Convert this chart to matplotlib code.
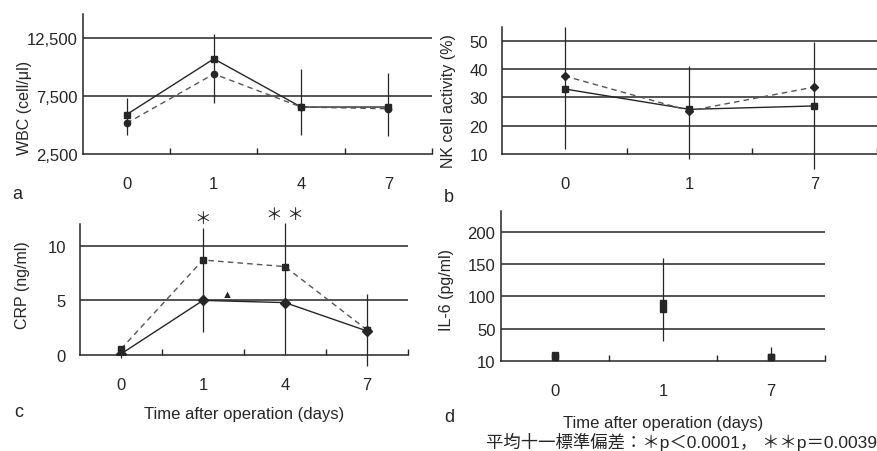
import numpy as np
import matplotlib.pyplot as plt

plt.rcParams['font.family'] = ['Liberation Sans', 'Noto Sans CJK JP', 'DejaVu Sans']

# panel a: WBC
days_a = ["0", "1", "4", "7"]
wbc_solid = [5900, 10700, 6550, 6550]
wbc_dash = [5150, 9400, 6550, 6400]
wbc_err_lo = [4100, 6900, 4150, 4050]
wbc_err_hi = [7300, 12850, 9800, 9500]

# panel b: NK cell activity
days_b = ["0", "1", "7"]
nk_solid = [33, 25.8, 27]
nk_dash = [37.6, 25.3, 33.7]
nk_err_lo = [11.8, 8.2, 4.7]
nk_err_hi = [54.9, 41.2, 49.6]

# panel c: CRP
days_c = ["0", "1", "4", "7"]
crp_solid = [0.1, 5.0, 4.8, 2.2]
crp_dash = [0.55, 8.7, 8.1, 2.3]
crp_err_lo = [-0.3, 2.1, 0.0, -1.0]
crp_err_hi = [0.7, 11.6, 12.1, 5.6]

# panel d: IL-6 (bottom tick labelled 10 sits at the zero line)
days_d = ["0", "1", "7"]
il6_solid = [9, 90, 7]
il6_dash = [6, 81, 6]
il6_err_lo = [0, 31, 0]
il6_err_hi = [13, 160, 22]

ink = "#262626"

fig = plt.figure(figsize=(8.78, 4.52), dpi=100)


def panel(rect, cats, solid, dash, lo, hi, ylim, grid, yticks, yticklabels,
          ylabel, label_xy, lines=True, ms_solid="s", ms_dash="D", ypad=0):
    ax = fig.add_axes(rect)
    x = np.arange(len(cats))
    ax.vlines(x, lo, hi, color=ink, lw=0.9, clip_on=False, zorder=3)
    for g in grid:
        ax.axhline(g, color=ink, lw=1.1, zorder=1)
    if lines:
        ax.plot(x, solid, ls="-", marker=ms_solid, ms=5, color=ink, lw=1.0, zorder=4)
        ax.plot(x, dash, ls="--", marker=ms_dash, ms=4.5, color="#555555", mfc=ink,
                mec=ink, lw=1.0, dashes=(4, 3), zorder=4)
    else:
        ax.plot(x, solid, ls="none", marker=ms_solid, ms=5, color=ink, zorder=4)
        ax.plot(x, dash, ls="none", marker=ms_dash, ms=5, color=ink, zorder=4)
    ax.set_xlim(-0.5, len(cats) - 0.5)
    ax.set_ylim(*ylim)
    ax.set_xticks(x)
    ax.set_xticklabels(cats)
    ax.set_xticks(np.arange(len(cats)) + 0.5, minor=True)
    ax.tick_params(axis="x", which="major", length=0, pad=16, labelsize=12, colors=ink)
    ax.tick_params(axis="x", which="minor", direction="in", length=4, width=1, color=ink)
    ax.set_yticks(yticks)
    ax.set_yticklabels(yticklabels)
    ax.tick_params(axis="y", length=0, pad=4 + ypad, labelsize=12, colors=ink)
    for s in ["top", "right"]:
        ax.spines[s].set_visible(False)
    for s in ["left", "bottom"]:
        ax.spines[s].set_color(ink)
        ax.spines[s].set_linewidth(1.1)
    ax.set_ylabel(ylabel, fontsize=11.5, color=ink)
    ax.yaxis.set_label_coords(*label_xy)
    return ax


ax_a = panel([0.0945, 0.657, 0.3975, 0.31], days_a, wbc_solid, wbc_dash,
             wbc_err_lo, wbc_err_hi, (2500, 14570), [7500, 12500],
             [2500, 7500, 12500], ["2,500", "7,500", "12,500"],
             "WBC (cell/\u03bcl)", (-0.146, 0.336), ms_solid="s", ms_dash="o")
ax_b = panel([0.5718, 0.657, 0.427, 0.281], days_b, nk_solid, nk_dash,
             nk_err_lo, nk_err_hi, (10, 54.9), [20, 30, 40, 50],
             [10, 20, 30, 40, 50], ["10", "20", "30", "40", "50"],
             "NK cell activity (%)", (-0.123, 0.425), ypad=6)
ax_c = panel([0.0911, 0.2124, 0.3736, 0.2898], days_c, crp_solid, crp_dash,
             crp_err_lo, crp_err_hi, (0, 12), [5, 10],
             [0, 5, 10], ["0", "5", "10"],
             "CRP (ng/ml)", (-0.152, 0.54), ms_solid="D", ms_dash="s", ypad=6)
ax_d = panel([0.5706, 0.199, 0.369, 0.332], days_d, il6_solid, il6_dash,
             il6_err_lo, il6_err_hi, (0, 232), [50, 100, 150, 200],
             [0, 50, 100, 150, 200], ["10", "50", "100", "150", "200"],
             "IL-6 (pg/ml)", (-0.145, 0.48), lines=False, ms_dash="s")

# significance marks on CRP
ax_c.text(1, 12.5, "＊", ha="center", va="center", fontsize=12, color=ink, clip_on=False)
ax_c.text(2, 12.9, "＊ ＊", ha="center", va="center", fontsize=12, color=ink, clip_on=False)
ax_c.text(1.3, 5.6, "\u25b2", ha="center", va="center", fontsize=8, color=ink)

ax_c.set_xlabel("Time after operation (days)", fontsize=12, color=ink, labelpad=10)
ax_d.set_xlabel("Time after operation (days)", fontsize=12, color=ink, labelpad=12)

fig.text(12 / 878, 1 - 195 / 452, "a", fontsize=13, color=ink, va="center")
fig.text(444 / 878, 1 - 198 / 452, "b", fontsize=13, color=ink, va="center")
fig.text(14 / 878, 1 - 413 / 452, "c", fontsize=13, color=ink, va="center")
fig.text(444 / 878, 1 - 418 / 452, "d", fontsize=13, color=ink, va="center")
fig.text(877 / 878, 1 - 442 / 452, "平均十一標準偏差：＊p＜0.0001， ＊＊p＝0.0039",
         fontsize=12.5, color=ink, ha="right", va="center")

fig.savefig("out.png", dpi=100)
